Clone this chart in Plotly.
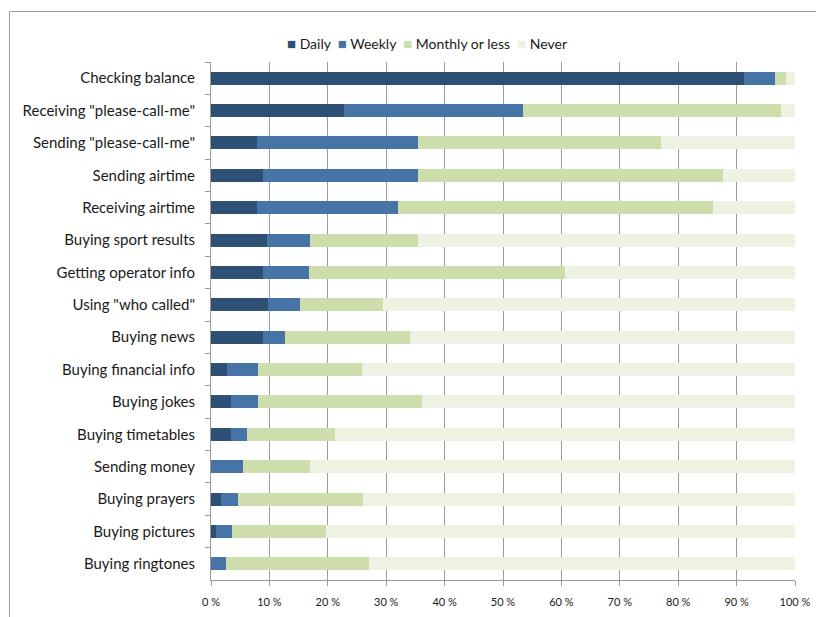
import plotly.graph_objects as go

categories = [
    "Checking balance",
    "Receiving \"please-call-me\"",
    "Sending \"please-call-me\"",
    "Sending airtime",
    "Receiving airtime",
    "Buying sport results",
    "Getting operator info",
    "Using \"who called\"",
    "Buying news",
    "Buying financial info",
    "Buying jokes",
    "Buying timetables",
    "Sending money",
    "Buying prayers",
    "Buying pictures",
    "Buying ringtones",
]

daily   = [91.3, 22.8, 7.9, 8.9, 7.9, 9.6, 8.9, 9.8, 8.9, 2.7, 3.4, 3.4, 0.0, 1.7, 0.9, 0.0]
weekly  = [5.3, 30.6, 27.5, 26.5, 24.1, 7.3, 7.8, 5.5, 3.7, 5.3, 4.6, 2.8, 5.5, 2.9, 2.7, 2.5]
monthly = [1.9, 44.2, 41.7, 52.3, 53.9, 18.5, 43.9, 14.2, 21.5, 17.9, 28.1, 15.0, 11.5, 21.5, 16.1, 24.5]
never   = [1.5, 2.4, 22.9, 12.3, 14.1, 64.6, 39.4, 70.5, 65.9, 74.1, 63.9, 78.8, 83.0, 73.9, 80.3, 73.0]

series_names = ["Daily", "Weekly", "Monthly or less", "Never"]
series_values = [daily, weekly, monthly, never]
series_colors = ["#2E5075", "#4674A7", "#CDDDAB", "#EEF2E3"]

tick_vals = [0, 10, 20, 30, 40, 50, 60, 70, 80, 90, 100]
tick_text = [f"{v} %" for v in tick_vals]

FONT = "Lato, 'Open Sans', sans-serif"

fig = go.Figure()
for name, vals, col in zip(series_names, series_values, series_colors):
    fig.add_trace(go.Bar(
        y=categories, x=vals, name=name, orientation="h",
        marker=dict(color=col, line=dict(width=0)),
    ))

W, H = 816, 617
L, T = 211, 62
pw = 795 - 211
ph = 580 - 62
R = W - L - pw
B = H - T - ph

def px(x):
    return (x - L) / pw

def py(y):
    return (T + ph - y) / ph

legend_text = "&nbsp;&nbsp;".join(
    f"<span style='color:{c}; font-size:15px'>■</span> {n}"
    for n, c in zip(series_names, series_colors)
)

fig.update_layout(
    width=W, height=H, autosize=False,
    margin=dict(l=L, r=R, t=T, b=B, pad=0, autoexpand=False),
    barmode="stack", bargap=0.6,
    plot_bgcolor="white", paper_bgcolor="white",
    font=dict(family=FONT, size=15, color="#1a1a1a"),
    showlegend=False,
    xaxis=dict(
        range=[0, 100], tickvals=tick_vals, ticktext=tick_text,
        showgrid=True, gridcolor="#9a9a9a", gridwidth=1,
        showline=True, linecolor="#9a9a9a", linewidth=1,
        ticks="outside", ticklen=5, tickcolor="#9a9a9a",
        tickfont=dict(size=11, family=FONT, color="#1a1a1a"),
        ticklabelstandoff=7, automargin=False,
        zeroline=False, fixedrange=True,
    ),
    yaxis=dict(
        categoryorder="array", categoryarray=categories,
        autorange="reversed",
        showgrid=False, showline=True, linecolor="#9a9a9a", linewidth=1,
        ticks="outside", ticklen=5, tickcolor="#9a9a9a", tickson="boundaries",
        tickfont=dict(size=15, family=FONT, color="#1a1a1a"),
        ticklabelstandoff=12, automargin=False,
        zeroline=False, fixedrange=True,
    ),
    annotations=[
        dict(text=legend_text, xref="paper", yref="paper",
             x=px(427), y=py(43), xanchor="center", yanchor="middle",
             showarrow=False, font=dict(size=14, family=FONT, color="#1a1a1a")),
    ],
    shapes=[
        dict(type="line", xref="paper", yref="paper",
             x0=px(9.5), x1=px(830), y0=py(11.5), y1=py(11.5),
             line=dict(color="#a0a0a0", width=1)),
        dict(type="line", xref="paper", yref="paper",
             x0=px(9.5), x1=px(9.5), y0=py(11.5), y1=py(630),
             line=dict(color="#a0a0a0", width=1)),
    ],
)

fig.write_html(
    "out.html",
    config={"displayModeBar": False},
    post_script=(
        "document.body.style.margin='0';"
        "document.body.style.overflow='hidden';"
        "document.documentElement.style.overflow='hidden';"
    ),
)
